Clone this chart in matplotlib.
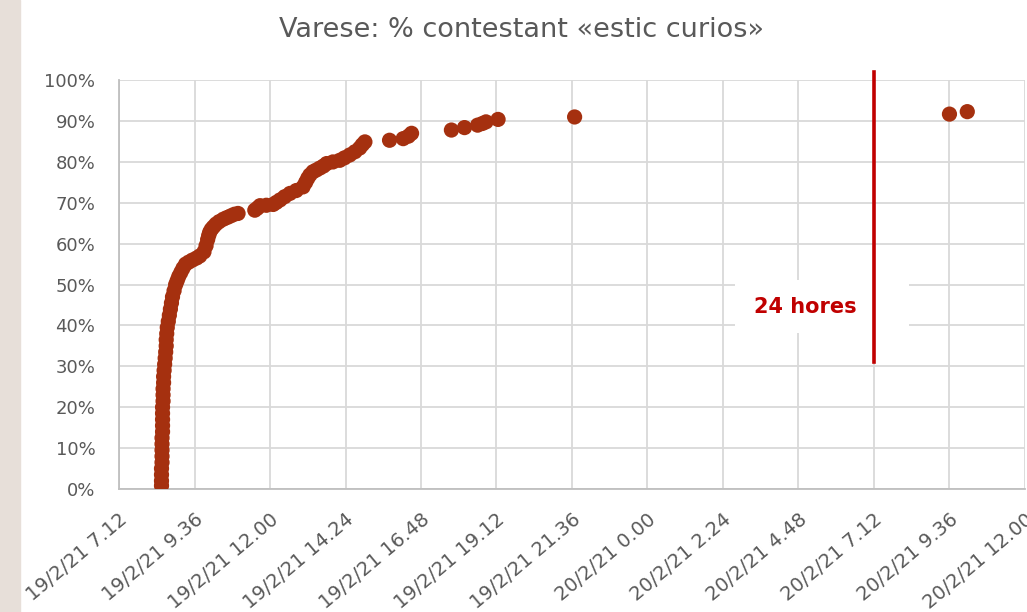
import numpy as np
import pandas as pd
import matplotlib
matplotlib.use("Agg")
import matplotlib.pyplot as plt
from matplotlib.patches import Rectangle

plt.rcParams.update({"font.family": "DejaVu Sans"})

# cumulative share of contestants that answered
times = [
    "2021-02-19 08:33", "2021-02-19 08:33", "2021-02-19 08:33", "2021-02-19 08:33",
    "2021-02-19 08:34", "2021-02-19 08:34", "2021-02-19 08:34", "2021-02-19 08:34",
    "2021-02-19 08:34", "2021-02-19 08:35", "2021-02-19 08:35", "2021-02-19 08:35",
    "2021-02-19 08:35", "2021-02-19 08:35", "2021-02-19 08:36", "2021-02-19 08:36",
    "2021-02-19 08:36", "2021-02-19 08:37", "2021-02-19 08:37", "2021-02-19 08:38",
    "2021-02-19 08:39", "2021-02-19 08:40", "2021-02-19 08:41", "2021-02-19 08:42",
    "2021-02-19 08:42", "2021-02-19 08:43", "2021-02-19 08:44", "2021-02-19 08:46",
    "2021-02-19 08:48", "2021-02-19 08:50", "2021-02-19 08:52", "2021-02-19 08:54",
    "2021-02-19 08:57", "2021-02-19 09:00", "2021-02-19 09:03", "2021-02-19 09:06",
    "2021-02-19 09:10", "2021-02-19 09:14", "2021-02-19 09:19", "2021-02-19 09:25",
    "2021-02-19 09:32", "2021-02-19 09:40", "2021-02-19 09:46", "2021-02-19 09:54",
    "2021-02-19 09:58", "2021-02-19 10:01", "2021-02-19 10:03", "2021-02-19 10:05",
    "2021-02-19 10:08", "2021-02-19 10:12", "2021-02-19 10:17", "2021-02-19 10:23",
    "2021-02-19 10:31", "2021-02-19 10:38", "2021-02-19 10:45", "2021-02-19 10:52",
    "2021-02-19 10:59",
    "2021-02-19 11:31", "2021-02-19 11:36", "2021-02-19 11:41", "2021-02-19 11:53",
    "2021-02-19 12:06", "2021-02-19 12:12", "2021-02-19 12:19", "2021-02-19 12:28",
    "2021-02-19 12:38", "2021-02-19 12:50", "2021-02-19 13:03", "2021-02-19 13:08",
    "2021-02-19 13:12", "2021-02-19 13:16", "2021-02-19 13:22", "2021-02-19 13:28",
    "2021-02-19 13:35", "2021-02-19 13:42", "2021-02-19 13:48", "2021-02-19 14:00",
    "2021-02-19 14:13", "2021-02-19 14:22", "2021-02-19 14:32", "2021-02-19 14:42",
    "2021-02-19 14:51", "2021-02-19 14:56", "2021-02-19 15:01",
    "2021-02-19 15:48", "2021-02-19 16:14", "2021-02-19 16:24", "2021-02-19 16:30",
    "2021-02-19 17:46", "2021-02-19 18:11", "2021-02-19 18:36", "2021-02-19 18:45",
    "2021-02-19 18:52", "2021-02-19 19:15", "2021-02-19 21:41",
    "2021-02-20 09:36", "2021-02-20 10:10",
]
pct = [
    0.8, 2.0, 3.5, 5.0,
    6.5, 8.0, 9.5, 11.0,
    12.5, 14.0, 15.5, 17.0,
    18.5, 20.0, 21.5, 23.0,
    24.5, 26.0, 27.5, 29.0,
    30.5, 32.0, 33.5, 35.0,
    36.5, 38.0, 39.5, 41.0,
    42.5, 44.0, 45.5, 47.0,
    48.5, 50.0, 51.0, 52.0,
    53.0, 54.0, 55.0, 55.5,
    56.0, 56.5, 57.0, 58.0,
    59.5, 61.0, 62.0, 62.8,
    63.5, 64.1, 64.8, 65.4,
    66.0, 66.4, 66.8, 67.2,
    67.4,
    68.2, 68.7, 69.3, 69.4,
    69.6, 70.1, 70.7, 71.5,
    72.3, 73.0, 73.9, 75.0,
    76.0, 76.8, 77.6, 78.0,
    78.5, 79.0, 79.6, 80.0,
    80.4, 81.0, 81.7, 82.5,
    83.4, 84.2, 84.9,
    85.3, 85.7, 86.3, 87.0,
    87.8, 88.4, 89.0, 89.4,
    89.8, 90.4, 91.0,
    91.7, 92.3,
]

x_start = pd.Timestamp("2021-02-19 07:12")
x_end = pd.Timestamp("2021-02-20 12:00")
marker_time = pd.Timestamp("2021-02-20 07:12")
marker_label = "24 hores"

t = pd.to_datetime(times)

fig = plt.figure(figsize=(10.27, 6.12), dpi=100)
fig.patches.append(Rectangle((0, 0), 20 / 1027, 1, transform=fig.transFigure,
                             color="#E7DFD9", zorder=0))
ax = fig.add_axes([0.1159, 0.201, 0.8821, 0.668])

ax.scatter(t, pct, s=120, color="#A5300F", edgecolors="none", zorder=3)

# x ticks every 2h24m, Excel style
ticks = pd.date_range(x_start, x_end, freq="144min")
ax.set_xlim(x_start, x_end)
ax.set_xticks(ticks)
ax.set_xticklabels([f"{d.day}/{d.month}/21 {d.hour}.{d.minute:02d}" for d in ticks],
                   rotation=40, ha="right", rotation_mode="anchor",
                   fontsize=14, color="#595959")
ax.set_ylim(0, 100)
ax.set_yticks(np.arange(0, 101, 10))
ax.set_yticklabels([f"{v}%" for v in range(0, 101, 10)], fontsize=13, color="#595959")
ax.tick_params(axis="x", length=0, pad=15)
ax.tick_params(axis="y", length=0, pad=17)

ax.grid(True, color="#D9D9D9", linewidth=1.3, zorder=0)
ax.set_axisbelow(True)
for side in ("top", "right"):
    ax.spines[side].set_visible(False)
for side in ("left", "bottom"):
    ax.spines[side].set_color("#BFBFBF")
    ax.spines[side].set_linewidth(1.3)

# white label box, red 24h marker line
ax.add_patch(Rectangle((0.680, 0.381), 0.192, 0.130, transform=ax.transAxes,
                       facecolor="white", edgecolor="none", zorder=1))
ax.plot([marker_time, marker_time], [31, 102], color="#C00000", linewidth=2.6,
        clip_on=False, zorder=4)
ax.text(0.758, 0.446, marker_label, transform=ax.transAxes, ha="center", va="center",
        fontsize=15, fontweight="bold", color="#C00000", zorder=5)

fig.text(0.508, 0.951, "Varese: % contestant «estic curios»", ha="center", va="center",
         fontsize=19.5, color="#595959")

fig.savefig("out.png", dpi=100)
